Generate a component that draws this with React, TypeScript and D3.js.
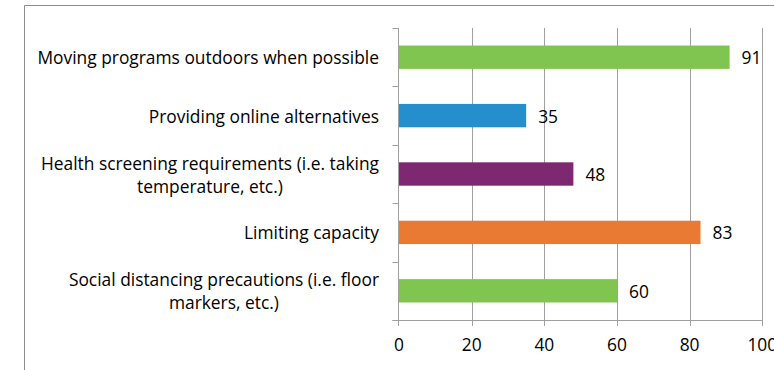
import React, { useEffect, useRef } from "react";
import * as d3 from "d3";

const categories = [
  "Moving programs outdoors when possible",
  "Providing online alternatives",
  "Health screening requirements (i.e. taking|temperature, etc.)",
  "Limiting capacity",
  "Social distancing precautions (i.e. floor|markers, etc.)",
];
const values = [91, 35, 48, 83, 60];
const barColors = ["#7FC54F", "#258ECC", "#7E2872", "#E97A34", "#7FC54F"];
const xTicks = [0, 20, 40, 60, 80, 100];

const W = 774;
const H = 370;
const FONT = "'Open Sans', sans-serif";

export default function App() {
  const ref = useRef<SVGSVGElement>(null);

  useEffect(() => {
    const svg = d3.select(ref.current);
    svg.selectAll("*").remove();

    // fit the font size so the longest label spans like the reference
    const probe = svg.append("text").attr("font-family", FONT).attr("font-size", 16).text(categories[0]);
    const pw = (probe.node() as SVGTextElement).getComputedTextLength();
    probe.remove();
    const FS = pw > 0 ? (16 * 342) / pw : 16;

    const left = 399, right = 762.3, top = 28, bottom = 320;
    const x = d3.scaleLinear().domain([0, 100]).range([left, right]);
    const y = d3.scaleBand<string>().domain(categories).range([top, bottom]).paddingInner(0.6).paddingOuter(0.3);
    const yb = d3.scaleBand<string>().domain(categories).range([top, bottom]);

    // chart border
    svg.append("line").attr("x1", 24.5).attr("x2", W).attr("y1", 5.5).attr("y2", 5.5).attr("stroke", "#8c8c8c").attr("stroke-width", 1);
    svg.append("line").attr("x1", 24.5).attr("x2", 24.5).attr("y1", 5.5).attr("y2", H).attr("stroke", "#8c8c8c").attr("stroke-width", 1);

    // gridlines
    svg.append("g").selectAll("line").data(xTicks.slice(1)).join("line")
      .attr("x1", d => Math.round(x(d)) + 0.5).attr("x2", d => Math.round(x(d)) + 0.5)
      .attr("y1", top).attr("y2", bottom)
      .attr("stroke", "#a0a0a0").attr("stroke-width", 1);

    // bars
    svg.append("g").selectAll("rect").data(categories).join("rect")
      .attr("x", x(0))
      .attr("y", d => y(d)!)
      .attr("width", (d, i) => x(values[i]) - x(0))
      .attr("height", y.bandwidth())
      .attr("fill", (d, i) => barColors[i]);

    // x axis line and ticks
    const ax = Math.round(x(0)) - 0.5;
    svg.append("line").attr("x1", ax - 6).attr("x2", right + 0.5).attr("y1", bottom + 0.5).attr("y2", bottom + 0.5).attr("stroke", "#a0a0a0");
    svg.append("g").selectAll("line").data(xTicks).join("line")
      .attr("x1", d => Math.round(x(d)) + (d === 0 ? -0.5 : 0.5)).attr("x2", d => Math.round(x(d)) + (d === 0 ? -0.5 : 0.5))
      .attr("y1", bottom).attr("y2", bottom + 6)
      .attr("stroke", "#a0a0a0");
    // y axis line and ticks
    svg.append("line").attr("x1", ax).attr("x2", ax).attr("y1", top).attr("y2", bottom + 6).attr("stroke", "#a0a0a0");
    const bounds = categories.map(c => yb(c)!).concat([bottom]);
    svg.append("g").selectAll("line").data(bounds).join("line")
      .attr("x1", ax - 6).attr("x2", ax)
      .attr("y1", d => Math.round(d) + 0.5).attr("y2", d => Math.round(d) + 0.5)
      .attr("stroke", "#a0a0a0");

    // x tick labels
    svg.append("g").selectAll("text").data(xTicks).join("text")
      .attr("x", d => x(d)).attr("y", 344)
      .attr("text-anchor", "middle").attr("dominant-baseline", "central")
      .attr("font-family", FONT).attr("font-size", FS).attr("fill", "#000")
      .text(d => d);

    // value labels
    svg.append("g").selectAll("text").data(categories).join("text")
      .attr("x", (d, i) => x(values[i]) + 12)
      .attr("y", d => y(d)! + y.bandwidth() / 2)
      .attr("dominant-baseline", "central")
      .attr("font-family", FONT).attr("font-size", FS).attr("fill", "#000")
      .text((d, i) => values[i]);

    // category labels
    const lg = svg.append("g");
    categories.forEach(c => {
      const lines = c.split("|");
      const cy = yb(c)! + yb.bandwidth() / 2;
      const lh = 23;
      const t = lg.append("text")
        .attr("font-family", FONT).attr("font-size", FS).attr("fill", "#000")
        .attr("dominant-baseline", "central");
      if (lines.length === 1) {
        t.attr("x", 379).attr("y", cy).attr("text-anchor", "end").text(lines[0]);
      } else {
        t.text(lines[0]);
        const w = (t.node() as SVGTextElement).getComputedTextLength();
        t.text(null);
        const cx = 379 - w / 2;
        t.attr("text-anchor", "middle");
        lines.forEach((ln, i) => {
          t.append("tspan").attr("x", cx).attr("y", cy + (i - (lines.length - 1) / 2) * lh).text(ln);
        });
      }
    });
  }, []);

  return (
    <div style={{ position: "fixed", left: 0, top: 0 }}>
      <svg ref={ref} width={W} height={H} style={{ display: "block", background: "#fff" }} />
    </div>
  );
}
